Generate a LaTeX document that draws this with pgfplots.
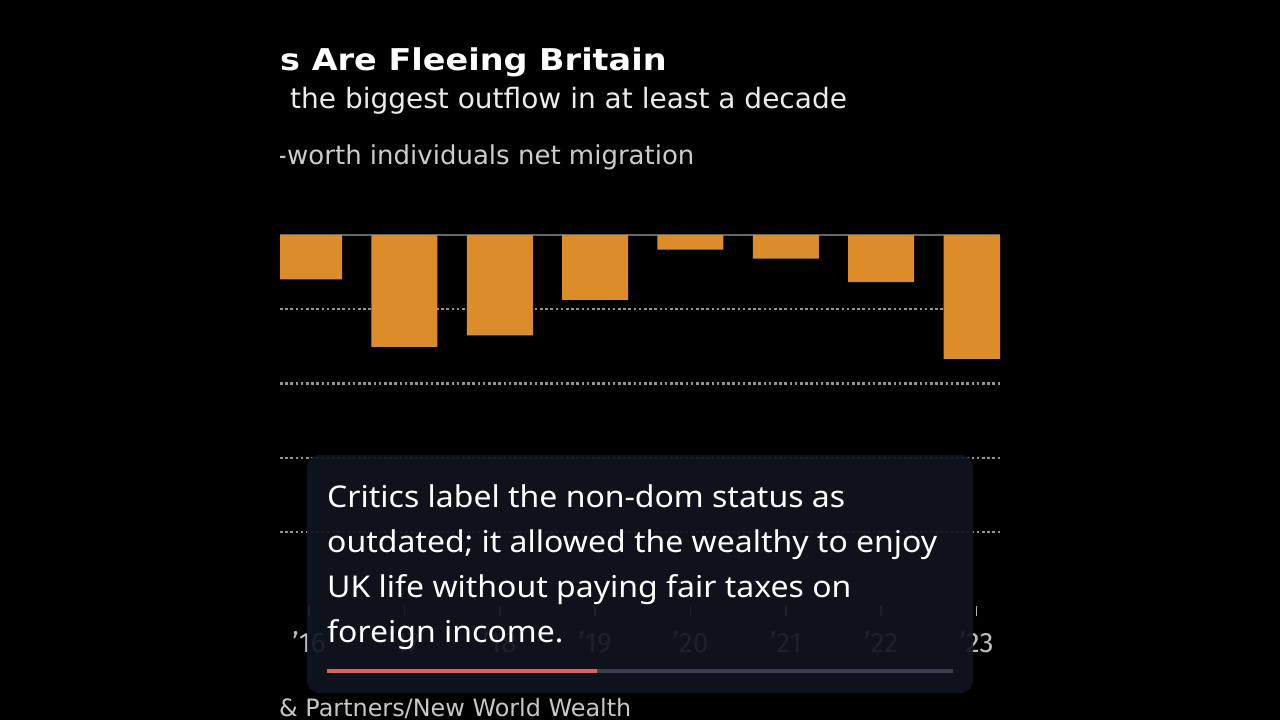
\documentclass[border=0pt]{standalone}
\usepackage{pgfplots}
\pgfplotsset{compat=1.18}
\usepackage{fontspec}
\setmainfont{Fira Sans}
\newfontfamily\djv{DejaVu Sans}
\newfontfamily\capfont{Noto Sans}
\definecolor{barorange}{RGB}{220,140,40}
\definecolor{capbg}{RGB}{16,20,32}
\definecolor{progred}{RGB}{222,96,100}
\definecolor{proggray}{RGB}{58,62,80}
\begin{document}
\begin{tikzpicture}
\path[use as bounding box, fill=black] (0pt,0pt) rectangle (1280pt,-720pt);
\begin{scope}
\clip (280pt,0pt) rectangle (1000pt,-720pt);
\node[anchor=base west, inner sep=0pt, text=white] at (280pt,-70pt)
  {\scalebox{1.116}[1]{\djv\fontsize{30}{36}\selectfont\bfseries s Are Fleeing Britain}};
\node[anchor=base west, inner sep=0pt, text=white!92!black] at (290pt,-108pt)
  {\djv\fontsize{28}{33}\selectfont the biggest outflow in at least a decade};
\node[anchor=base east, inner sep=0pt, text=white!80!black] at (287pt,-164pt)
  {\djv\fontsize{26}{31}\selectfont -};
\node[anchor=base west, inner sep=0pt, text=white!80!black] at (287pt,-164pt)
  {\djv\fontsize{26}{31}\selectfont worth individuals net migration};
\node[anchor=base west, inner sep=0pt, text=white!78!black] at (279pt,-716pt)
  {\djv\fontsize{23.9}{28}\selectfont \& Partners/New World Wealth};
\end{scope}
\begin{axis}[
  at={(280pt,-606pt)}, anchor=south west,
  scale only axis, width=720pt, height=371pt,
  xmin=-0.305, xmax=7.246, ymin=-5000, ymax=0,
  axis line style={draw=none},
  ybar, bar width=66pt, bar shift=0pt,
  xtick={0,1,2,3,4,5,6,7},
  xticklabels={'16,'17,'18,'19,'20,'21,'22,'23},
  xtick pos=bottom, ytick pos=left,
  ytick={-4000,-3000,-2000,-1000}, yticklabels={},
  ymajorgrids,
  grid style={dash pattern=on 2.6pt off 2.6pt, line width=2.2pt, draw=white!58!black},
  extra y ticks={0}, extra y tick labels={},
  extra y tick style={grid style={solid, line width=1.5pt, draw=white!40!black}, major tick length=0pt},
  major y tick style={draw=none},
  x tick style={draw=white!70!black, line width=1.5pt},
  tick align=outside, major tick length=10pt,
  xticklabel style={font=\fontsize{28}{32}\selectfont, text=white!75!black, yshift=-12pt},
]
\addplot[fill=barorange, draw=none] coordinates {
 (0,-598) (1,-1509) (2,-1354) (3,-875) (4,-196) (5,-317) (6,-634) (7,-1670)
};
\end{axis}
\fill[capbg, fill opacity=0.93, rounded corners=12pt] (307pt,-455pt) rectangle (973pt,-693pt);
\draw[progred, line width=3.5pt] (327pt,-671pt) -- (597pt,-671pt);
\draw[proggray, line width=3.5pt] (597pt,-671pt) -- (953pt,-671pt);
\begin{scope}[every node/.style={anchor=base west, inner sep=0pt, text=white}]
\node at (327pt,-507pt) {\scalebox{1.066}[1]{\capfont\fontsize{30}{36}\selectfont Critics label the non-dom status as}};
\node at (327pt,-552pt) {\scalebox{1.066}[1]{\capfont\fontsize{30}{36}\selectfont outdated; it allowed the wealthy to enjoy}};
\node at (327pt,-597pt) {\scalebox{1.066}[1]{\capfont\fontsize{30}{36}\selectfont UK life without paying fair taxes on}};
\node at (327pt,-642pt) {\scalebox{1.066}[1]{\capfont\fontsize{30}{36}\selectfont foreign income.}};
\end{scope}
\end{tikzpicture}
\end{document}
